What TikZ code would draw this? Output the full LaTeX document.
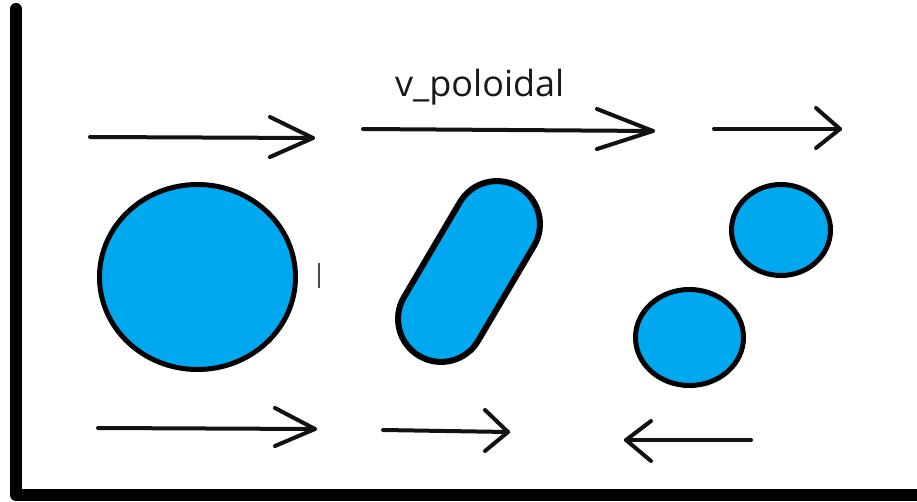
\documentclass[tikz,border=0pt]{standalone}
\usepackage{fontspec}
\setmainfont{Open Sans}
\begin{document}
\begin{tikzpicture}[x=1pt,y=-1pt,
  axisline/.style={line width=12pt, line cap=round, line join=round, black},
  flowline/.style={line width=4pt, line cap=round, line join=round, black!93},
  blob/.style={line width=5pt, fill=paintblue, draw=black},
  label/.style={font=\fontsize{36}{40}\selectfont, inner sep=0pt, anchor=base west, text=black!90}]
\definecolor{paintblue}{HTML}{00A8F0}
\useasboundingbox (0,0) rectangle (917,502);
\fill[white] (0,0) rectangle (917,502);
% axes
\coordinate (axtop) at (16,9);
\coordinate (axcorner) at (16,495);
\coordinate (axright) at (925,495);
\draw[axisline] (axtop) -- (axcorner) -- (axright);
% label
\node[label] (vp) at (395,97) {v\_poloidal};
% top arrows
\coordinate (t1s) at (90,137);  \coordinate (t1e) at (313,138);
\draw[flowline] (t1s) -- (t1e);
\draw[flowline] (270,117) -- (t1e) -- (270,157);
\coordinate (t2s) at (363,129); \coordinate (t2e) at (653,131);
\draw[flowline] (t2s) -- (t2e);
\draw[flowline] (597,109) -- (t2e) -- (597,149);
\coordinate (t3s) at (714,129); \coordinate (t3e) at (840,129);
\draw[flowline] (t3s) -- (t3e);
\draw[flowline] (816,108) -- (t3e) -- (816,148);
% bottom arrows
\coordinate (b1s) at (98,428);  \coordinate (b1e) at (315,429);
\draw[flowline] (b1s) -- (b1e);
\draw[flowline] (275,408) -- (b1e) -- (275,446);
\coordinate (b2s) at (383,430); \coordinate (b2e) at (508,432);
\draw[flowline] (b2s) -- (b2e);
\draw[flowline] (485,410) -- (b2e) -- (485,451);
\coordinate (b3s) at (751,440); \coordinate (b3e) at (626,440);
\draw[flowline] (b3s) -- (b3e);
\draw[flowline] (651,421) -- (b3e) -- (651,461);
% shapes
\draw[blob] (197.5,277) ellipse [x radius=98, y radius=92.5];
\draw[blob] (781,230) ellipse [x radius=49.5, y radius=45.5];
\draw[blob] (689.5,337.5) ellipse [x radius=54, y radius=48];
\begin{scope}[shift={(469,271.5)}, rotate=59.5]
  \draw[blob, line width=6pt, rounded corners=42.9pt] (-98,-43) rectangle (98,43);
\end{scope}
% small tick
\draw[line width=1.5pt, black!70] (319,263) -- (319,288);
\end{tikzpicture}
\end{document}
